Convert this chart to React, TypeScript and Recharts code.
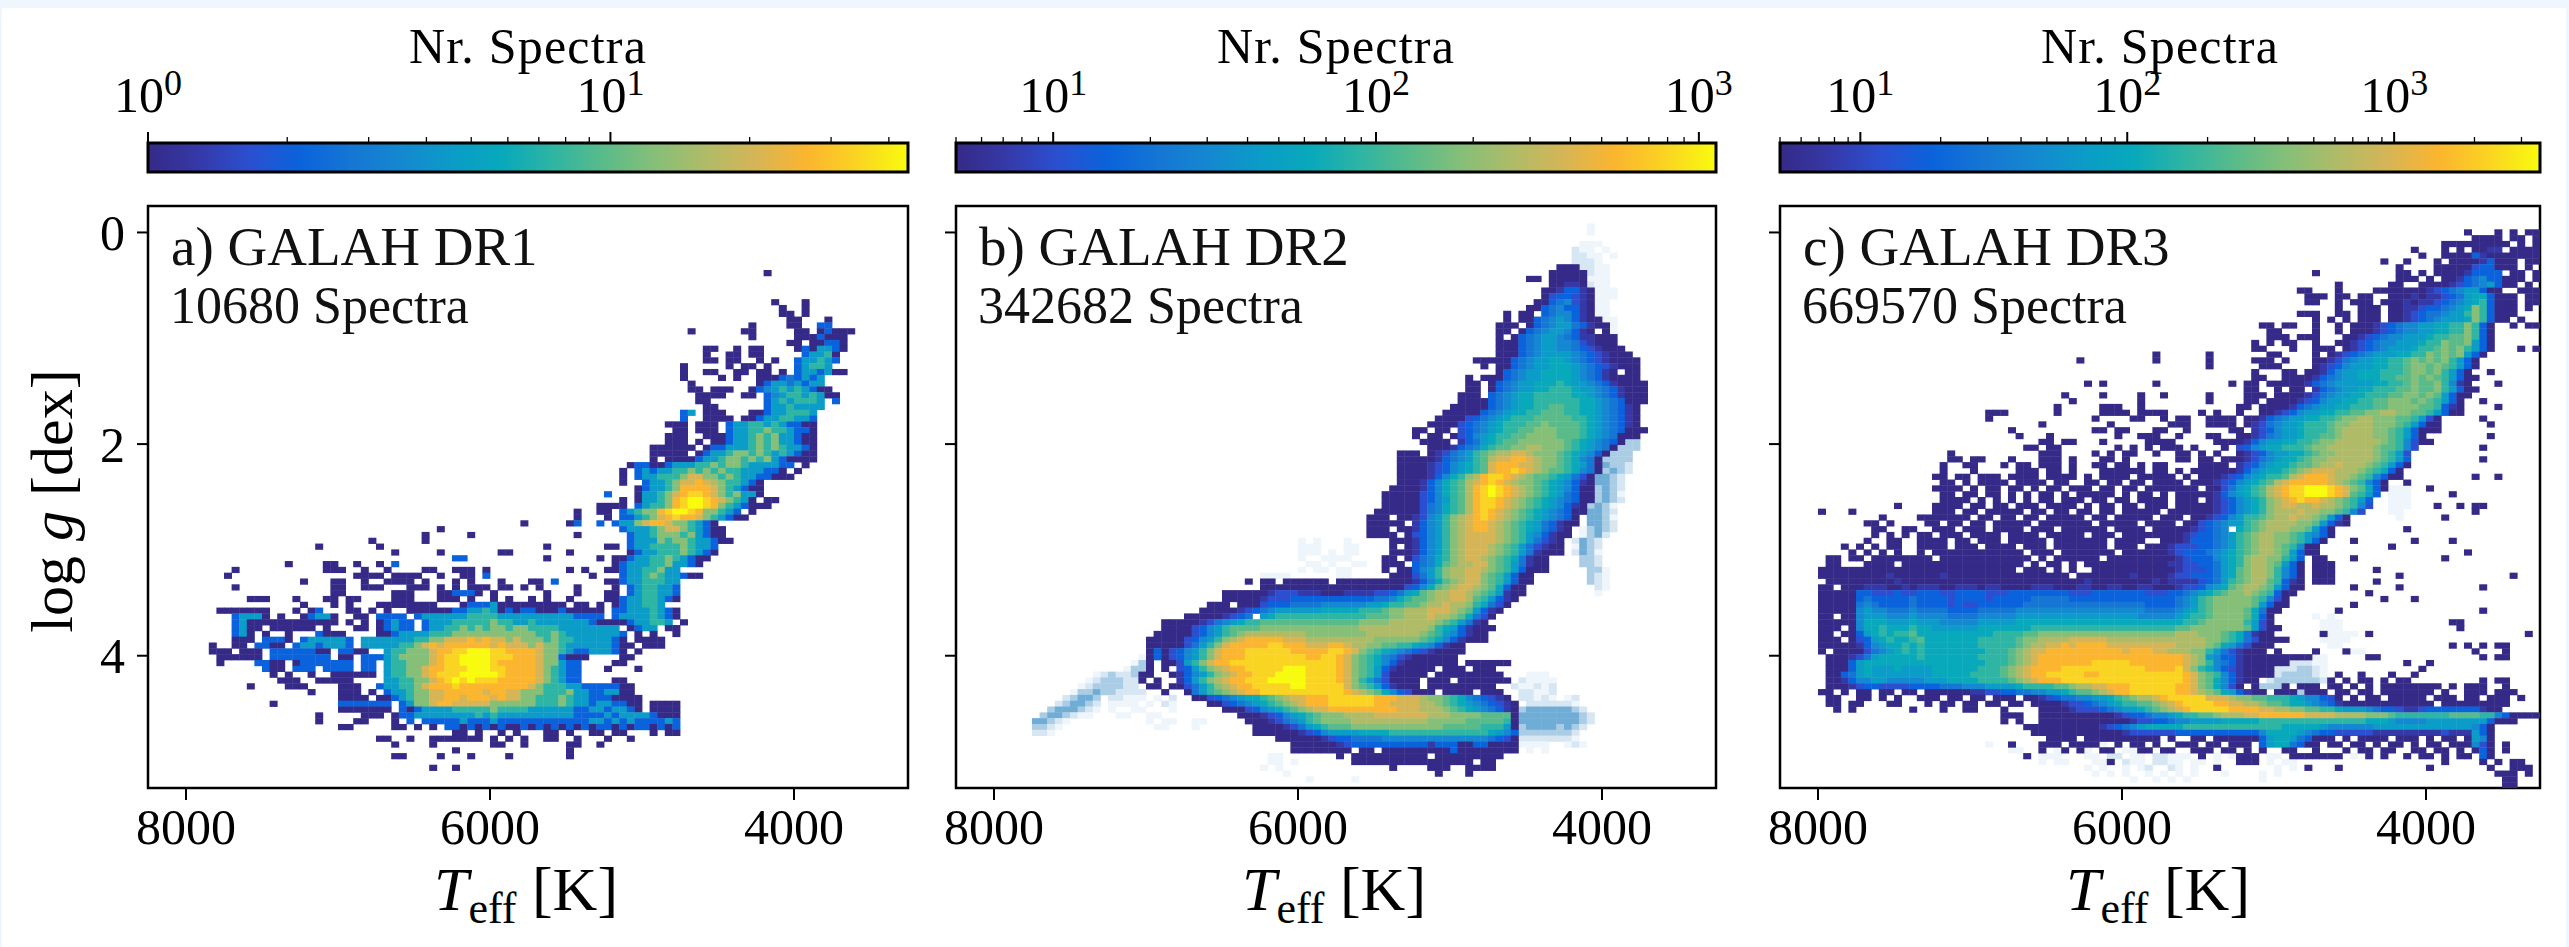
import React from "react";
import { ScatterChart, Scatter, XAxis, YAxis, ReferenceArea } from "recharts";

const FONT = "'Liberation Serif', serif";
// Colormap levels 0..f, pale underlay levels g..j
const CMAP = ["#352a87","#3539a8","#2b4fd0","#0a63dc","#1576d4","#1488d0","#0b9cc8","#08a9bb","#2fb5a3","#5abb8a","#86bf78","#b0bb68","#d6b556","#fbb52f","#fad422","#f9fb0e"];
const PALE: Record<string,string> = { g:"#eef5fb", h:"#d6e6f3", i:"#aacde5", j:"#6fadd6" };

const TEFF_TICKS = [8000,6000,4000];
const LOGG_TICKS = [0,2,4];
const TEFF_DOMAIN = [3250,8250];
const LOGG_DOMAIN = [-0.25,5.25];
const BIN_T = 50;
const BIN_G = 0.055;

// Each entry: "logg bin|col:cells col:cells"; a cell is a level, "." is an empty bin
const ROWS_A: string[] = [
"11|80:.0","16|80:..0...0","17|80:...0..0","18|80:...00.0","19|80:....00...0","20|70:.........0 80:....00..33",
"21|70:.0......00 80:.....00.03 90:000","22|70:.........0 80:.....00030 90:00","23|80:....00.003 90:30","24|70:...00..0.0 80:0....03066 90:30","25|70:...0..00.0 80:0.....3668 90:0",
"26|70:...00.00.. 80:0.0..36686 90:3","27|70:0.....0.00 80:.0...36886","28|70:0..00..00. 80:00.0.36636 90:00","29|70:0....0.0.. 80:000343636","30|70:.0........ 80:036646366",
"31|70:.00.000..0 80:3568686300","32|70:..0000..00 80:.356886860 90:0","33|70:..00...... 80:.36868886 90:3","34|70:...00..... 80:.36686666","35|70:36.000...0 80:03668886",
"36|70:3..0000.00 80:36688663","37|60:........00 70:0.000.3668 80:86863300","38|60:.........0 70:0.000.3668 80:8a886330","39|60:........00 70:0..0003668 80:a8a66300","40|60:........00 70:0.0.003668 80:a8a66300",
"41|60:......0000 70:00.0336668 80:a8a86630","42|60:......0000 70:0.03668aa8 80:a8686300","43|60:......0.00 70:003668aa8a 80:8a630000","44|60:...0330036 70:6688a8aa86 80:66633.0","45|60:..0.363668 70:8a8a8a8866 80:6330.0",
"46|60:..0.366888 70:accaa8a866 80:33000","47|60:..0..3668a 70:ccdcba8863 80:0","48|60:....03668a 70:ddddca8630 80:0","49|60:3...0668ac 70:deedca8a66 80:0","50|60:..0.0668ad 70:effedca860 80:.00",
"51|50:.........0 60:000.3688ad 70:effeda8630 80:00","52|50:......0..0 60:0.368aadef 70:fedaa863.0","53|50:......0... 60:0.3368acde 70:ddca86300","54|40:.........0 50:.....03..3 60:.366acddca 70:a8630","55|30:........0. 60:..36668acc 70:a86300",
"56|30:......0... 40:..0....... 50:......0... 60:...3668aaa 70:8a6300","57|20:.........0 30:......0... 60:...3666a8a 70:a866300","58|20:..0.......0 50:..0....... 60:00.3668888 70:a8663","59|30:..0.....0. 40:......00.. 50:.....0.... 60:...0366888 70:a8630","60|40:33....... 50:..0......0 60:.0036688a8 70:6300",
"61|10:........0 20:...00..0.. 30:0.3....... 60:.0366688a6 70:630","62|10:.0........ 20:...000..0 30:.0....00.. 40:000.0..... 50:.....0.0.. 60:0036688a66","63|10:0......... 20:.......000 30:0.0000..0. 40:.00.3..... 50:........0. 60:..3668a866 70:300","64|20:0...00..0. 30:.0000.0... 40:0.0...0... 50:00.3...... 60:0036688866","65|10:.0........ 20:....00..00 30:0...000.0. 40:0.000.00.0 50:.0....0... 60:.0.3688663",
"66|20:....00.... 30:..000...00 40:3330.0.... 50:..0...0... 60:00.3688663","67|10:...000...0 20:...00.00.. 30:..000...00 40:0.0..0.0.. 50:0.0..0.... 60:0036688630","68|20:0...0.0... 30:00000000 40:.033360000 50:00000.00.0 60:.0366886","69|0:.........0 10:000000...0 20:.03...00.0 30:.0..000000 40:3366860303 50:3000300000 60:.336668630",
"70|10:.36660.0.. 20:03660..00. 30:3333.36666 40:6688886666 50:6666663333 60:.366668630","71|10:.360000000 20:00000.0.0. 30:03633.3666 40:88888a8866 50:8666666630 60:000366886 70:0","72|10:.3600.0000 20:00.0...00. 30:03633.3668 40:8a8a8aa8aa 50:8888666666 60:66.0366.00","73|10:.360.0..0. 20:..3000.... 30:0036666888 40:aaaaaaaaaa 50:a88a866666 60:663.0.0..0",
"74|10:.000.3330. 20:3666663.66 30:6666688aac 40:ccdcdccaca 50:aa8a886666 60:630.0000","75|0:........0. 10:.00.3300.3 20:6636663.66 30:66688acdcd 40:dddddcdccc 50:acaa866666 60:6300.000","76|0:........00 10:0.000.3333 20:3300.3300. 30:.688aaacdd 40:eefffeeddd 50:dcaa863366 60:630.0","77|0:.........0 10:00000.3333 20:3333.00.33 30:368aaaacde 40:effffeeedd 50:dcaa3000.. 60:..00",
"78|0:.........0 10:....3300.0 20:3333333.33 30:.688aaacde 40:effffedddd 50:dcaa633... 60:.00","79|10:.....300.3 20:33.3333.33 30:.688aacdde 40:eefffeeddd 50:dca8633... 60:0...0","80|10:......0.0. 20:.0..000000 30:.688aacdee 40:efffffeddd 50:dca8633","81|10:.......000 20:..00000... 30:.6688aacde 40:fefeeedddd 50:dca8633... 60:.00",
"82|10:...0....00 20:0....000.. 30:36688acddd 40:eddddddddd 50:ca88866333 60:3300","83|20:.0...000.0 30:.3668aaccd 40:ddddcddcca 50:aa888a6633 60:6600","84|20:.....0000. 30:00368aaccd 40:dcdddcdcca 50:a888a86633 60:30000","85|10:......0... 20:.....33333 30:33.36aacdd 40:cccccaaaaa 50:a888a86636 60:63300.0000",
"86|20:.....00000 30:00.3036666 40:88888a8888 50:6666663366 60:36630.0000","87|20:..0.....00 30:0.03366666 40:6668686666 50:6666663333 60:6366663000","88|20:..0....00. 30:..0.3.3333 40:3633363333 50:3333333366 60:3636333363","89|20:.....00... 30:..00.0.0.3 40:3030303003 50:0303030303 60:3030330303",
"90|30:.......... 40:00.0..0.0. 50:..00.0..00 60:.00...0.00","91|30:00..0..000 40:0000.0.0.0 50:..00..0... 60:0..0","92|30:..0....0.. 40:.....00..0 50:.....00..0","93|40:0 50:.....0","94|30:..00....0. 40:..0....0.. 50:.....0","96|30:.......0.. 40:0"];

const ROWS_B: string[] = [
"3|80:...g","4|80:...g","6|80:..ggg","7|80:.hgg.g","8|80:.hhgg.g","9|80:.hhhg",
"10|70:.........0 80:00hhgg","11|70:........00 80:000hgg","12|70:.....00.00 80:000ggg","13|70:........00 80:110hgg","14|70:.......001 80:3310ggg","15|70:.......023 80:3210ggg","16|70:......0034 80:5210gg","17|70:.....00345 80:3310gg","18|70:..0.00.345 80:5310gg","19|70:..0.003456 80:53100gg",
"20|70:.000.03456 80:643100g","21|70:.00.034566 80:5310.0g","22|70:.0.0345665 80:4311000","23|70:.000345665 80:5421000","24|70:.000345665 80:54321000","25|70:.000345666 80:654321000",
"26|60:........00 70:0003456677 80:6543210000","27|60:.........0 70:.003456677 80:7654321000","28|70:.034566777 80:7654310.00","29|60:.......0.0 70:0034566777 80:7654310000","30|60:.......00. 70:0345667778 80:7665431000 90:0",
"31|60:.......00. 70:0345667788 80:8766543100 90:0","32|60:......000. 70:3456778888 80:8776543100 90:0","33|60:......0000 70:3456778888 80:8877654300 90:0","34|60:.....00000 70:3456778899 80:8877654310","35|60:....000003 70:4567788999 80:8877654310",
"36|60:...0000234 70:5678889999 80:9887654310","37|60:..00002345 70:6788899a99 80:9987654310","38|60:00.00.2345 70:678899aaa9 80:9987654300 90:0","39|60:0.00.02356 70:78899aaaa9 80:9987654000","40|60:.0000.1346 70:7899aaaaaa 80:98765430ii",
"41|60:..00013457 70:899aabbaaa 80:9876540iii","42|50:........00 60:0.01245689 70:abbccbaaa9 80:876530iii","43|50:........00 60:0001345689 70:bccddcbaa9 80:87540iiii","44|50:........00 60:0012356789 70:cdddccbaa9 80:87640jiih","45|50:........00 60:0012356789 70:cddedcba99 80:87540ijih",
"46|50:........00 60:0013578abd 70:eedcba9987 80:6420jjih","47|50:........00 60:0135789bcd 70:edcbaa9876 80:5310jjih","48|50:.......000 60:0135789bde 70:fedcba9876 80:5300ijih","49|50:......0000 60:0235789bde 70:fedcba9876 80:4300ijig","50|50:......0000 60:0235689bde 70:edcba98765 80:4300ijih",
"51|50:......0000 60:0245789bde 70:edcba98765 80:310ijig","52|50:.....00000 60:0245789bde 70:dcba987654 80:300jjih","53|50:....000.00 60:12568abcde 70:dcba987654 80:30.jjig","54|50:....00000. 60:13568abcdd 70:cba9876431 80:00.jjih","55|50:....000.00 60:13568abcdd 70:cba9876431 80:0.gijih",
"56|50:....0000.0 60:23568abccc 70:cba9865310 80:0.gijh","57|40:.....g.g.. 50:.g.....000 60:13568abccc 70:cba9864210 80:.hjih","58|40:.....ggg.. 50:.gg....0.0 60:13568abccc 70:ba98642100 80:.gjih","59|40:.....ggg.g 50:.gg....000 60:13568abccc 70:ba98641000 80:.hjig","60|40:.....g..gg 50:gg....00.0 60:24578abccb 70:a9874100 80:..iih",
"61|40:......gg.g 50:..gg..000. 60:34579abbcc 70:a9864100 80:..iih","62|40:.....g.gg. 50:gg....0.00 60:3568abbccb 70:a9863000 80:...iig","63|40:gggg...... 50:gg.....000 60:2468abbcca 70:986300 80:...ihg","64|30:........0. 40:00.000000 50:0000000000 60:13579abcca 70:986300 80:...ihg","65|40:0000000000 50:0000000002 60:3579abccba 70:97300 80:....hg",
"66|30:.....00000 40:0122211100 50:0111122346 60:79abbccba9 70:86100 80:....g","67|30:.....00000 40:1222333333 50:3333344578 60:99abbccb98 70:6310","68|30:...000.000 40:2333444455 50:5555667889 60:9abbcbba87 70:420","69|30:..00000123 40:4566666677 50:7778889aab 60:bbcccba963 70:10","70|30:000001234 40:6788888888 50:8888999aab 60:bbcbba9742 70:0",
"71|20:.......000 30:0012456788 40:9999999999 50:999aaaabbb 60:bbba986410","72|20:.......000 30:0235689999 40:aaaaaaaaaa 50:aaabbbbbbb 60:bba8763100 70:0","73|20:......0000 30:0235689abb 40:bbbbbbaaaa 50:aaaabbbbbb 60:ba98653100","74|20:.....00000 30:23568abcdd 40:dddcccbbbb 50:bbbbbaaaaa 60:a987531000","75|20:.....00000 30:2468acdddd 40:deedddcccd 50:dcbbaa9988 60:7653100",
"76|20:.....03023 30:568acdddee 40:eeeeddddde 50:edca987654 60:3210000","77|20:....g03023 30:568acdddee 40:eeeeeeddee 50:dca9875421 60:000000","78|20:...gi0.002 30:68acddeeee 40:eeeeeeeeee 50:dca9875310 60:000000.000 70:000","79|20:..gii0.0.2 30:368abcddee 40:eeefffeeee 50:dca9863100 60:000.000.00 70:0","80|10:........gh 20:ihhi00..01 30:3568abcdde 40:eeffffeeee 50:dca9862000 60:00.0000000 70:00...ggg",
"81|10:.......ghi 20:iihh0.0..1 30:368abcddee 40:efffffeeee 50:dca8642000 60:0.000.0000 70:000.hgggg","82|10:......ghii 20:iihh.00.00 30:2468abcdde 40:eeeeffeeee 50:eca9863100 60:0.00000000 70:0..hgghgh","83|10:.....giiji 20:ihhhh..0.. 30:04689abcdd 40:eeeeeeeeee 50:edcba97532 60:000.0000.0 70:00..hhggh",
"84|10:....hijji 20:hhggg.g.h. 30:.002345677 40:89abccddde 50:eeeeedddcc 60:cbaa987543 70:210.hhghg 80:gh","85|10:...hijjih 20:gggg.g.hg. 30:...0023456 40:789abcddde 50:eeeeeddccc 60:cbba987654 70:3210.hhhhh 80:hg","86|10:..ijjjihg 20:g..gg...g. 30:.....00023 40:56789abccd 50:ddddddddcc 60:cbbba98765 70:4310ijjjjj 80:jih",
"87|10:.ijjihgg.. 20:.gg..gg... 30:.......000 40:1235678 9aa 50:abbbbccccc 60:ccbbbaaaa9 70:9990jjjjjj 80:jjih","88|10:jjihg..... 20:.....g.gg. 30:.gg.....00 40:01245689aa 50:aabbbbbbbb 60:bbaaaaa999 70:9980jjjjjj 80:jjih","89|10:iihg...... 20:......gg.. 30:.g.......0 40:0001246789 50:99aaaaaaaa 60:aaaa999998 70:8860ijjjji 80:jih",
"90|10:hhg....... 30:.........0 40:0000012356 50:6667777888 60:8888888888 70:7653iiiiii 80:ih","91|40:..00000012 50:3344445555 60:5555555555 70:4320hhhhhh 80:hg","92|40:....000000 50:1233333333 60:3313330033 70:0000gggg 80:ghg","93|40:....000000 50:00.00.0000 60:0000030000 70:0000.g.g",
"94|40:.gg....... 50:0.00000000 60:00.0000000 70:00","95|40:.gg.g..... 50:..00000000 60:00000000.0 70:0","96|40:g.g....... 50:.......0.. 60:..000..000 70:0","97|40:...g...... 60:...0...0","98|40:......g... 50:..g"];

const ROWS_C: string[] = [
"4|90:0...0.0.00","5|90:.0000.00.0","6|80:.......000 90:000000.0.0","7|80:...0...0.0 90:.0011.0000","8|80:....0..000 90:0310000000","9|70:.........0 80:..0...0.00 90:0013000.00",
"10|80:.0....0000 90:0233000.0.","11|70:0 80:.00.0.0000 90:13333.00.0","12|80:.000.0.001 90:34533000.0","13|70:...0 80:00..000012 90:3456300.0","14|60:........00 70:...0....00 80:0000012345 90:66300..000",
"15|60:.........0 70:00.00.00.. 80:0001011234 90:6773000.00","16|60:.........0 70:0..0.000.0 80:0010112345 90:6783000.00","17|70:...0..000. 80:0011233456 90:7a83000.0.","18|60:........00 70:0..00.000. 80:0012344566 90:8a83000","19|70:0.0.0.000. 80:0012345666 90:7a8300.0",
"20|60:...00.00.. 70:0..0.00012 80:3455667788 90:a830..0.00","21|60:....00.... 70:0..0.00012 80:3455667788 90:a830","22|60:....000.00 70:0...001234 80:5566678899 90:a830","23|60:..0.0.00.. 70:0..0012345 80:5666788a99 90:a630","24|60:..00...0.. 70:000.012345 80:6667889a9a 90:8630...0.0",
"25|40:.........0 50:......0... 60:....00.... 70:0.01234566 80:67788a9a9a 90:630","26|30:.........0 40:.........0 50:......0... 60:..000.0... 70:0012456677 80:889a9a9a86 90:30","27|50:......0... 60:...000.... 70:0123566677 80:889aa9a986 90:30","28|60:..0...00.0 70:0135667778 80:889aa9a863 90:0..0","29|60:..00..0000 70:1345667778 80:899a9a9863 90:00",
"30|40:0.0......0 50:.........0 60:.00.000001 70:3456666677 80:889a99a851 90:0...0","31|60:.00..0.00 70:1345667788 80:899a99a863 90:00","32|30:.......0.. 40:..0....0.. 50:0.....0... 60:.000.00001 70:2456677888 80:99aa9a9630 90:0","33|30:........0. 40:.......0.. 50:......0... 60:.00.000012 70:3566778899 80:aaa9a98630 90:..0","34|30:......0... 40:..000..0.. 60:00.0000134 70:5667788899 80:aaaa998310 90:....0",
"35|20:.......000 30:......0... 40:..0000.000 50:0....0.0.. 60:0..0012356 70:6778899aab 80:baa9986300","36|20:.......0.. 40:.0....00.. 50:0.00..0000 60:.001345667 70:7889aabbaa 80:a998620 90:..0","37|30:....0..... 40:...0...... 50:.000..0000 60:.012456678 70:889aabbbaa 80:a986300 90:...0","38|30:0......... 40:.00.00...0 50:0..0.....0 60:0.12356678 70:889abbbbaa 80:9863000","39|30:.0...0.... 40:....0..000 50:..0...00.. 60:0012456678 70:899abbbbaa 80:98630 90:...0",
"40|30:....00.00 40:..0.....00 50:00.....000 60:0135667788 70:9aabbbbbba 80:985200","41|30:..00.00... 40:....0.0.0. 50:000.0...0 60:2356778889 70:aabbbbbba9 80:9852 90:..0","42|20:..0....... 30:....000... 40:.0.0.00..0 50:..00.0.0 60:0123566778 70:9aabbbbba9 80:862","43|20:..00.00.. 30:0...000.0. 40:..00.0.... 50:..00.00.00 60:0124567789 70:aabbbbbba9 80:863 90:..0","44|20:.0..00...0 30:.00.000.0. 40:.00.00.0.0 50:0....0000 60:1235677899 70:abbcbbba98 80:630",
"45|20:.0...0.... 30:.000.00.0. 40:..000000.0 50:0.0.000000 60:13567789ab 70:cccbbba987 80:30","46|20:00.00.000. 30:0000.0000. 40:0.0000.000 50:00.0.00012 60:3567889bcd 70:ddcbba9853 80:00 90:.0..0","47|20:.00.0.0000 30:.0000.00.. 40:00.00.00.0 50:000.000123 60:56789bcddd 70:ddcba98530 80:..0","48|20:0000.0.00 30:00.0.00.00 40:0.00.00.00 50:00000.0024 60:6789bcdeef 70:ffedca9730 80:ggg..0","49|20:.00.00.00 30:0.0.00.0.0 40:0000.0.00. 50:0.00000135 60:6789bcdeef 70:ffedc9863 80:ggg.....0",
"50|20:.0000.0.0 30:0.0.00.000 40:.00.00.000 50:0.000.0123 60:5678abcded 70:dcba9863 80:ggg",
"51|10:.....0.... 20:0000.00.00 30:.000.0000. 40:0.00.00.00 50:0.00000123 60:5678abccbb 70:cbba9852 80:ggg...0..0 90:.00","52|0:.....0...0 20:000.00.000 30:00.00.00.0 40:0.00.00000 50:.000000123 60:5678abbbcb 70:baa9852 80:gg. 90:.0","53|10:...0....00 20:00000.00.0 30:0.00.00000 40:.00.00000 50:000.001235 60:6889abbcbb 70:a9630 80:.g.....0","54|10:.00.0....0 20:0.00.00.00 30:000.000000 40:0.00000.00 50:00.0023456 60:689abbbbaa 70:96310","55|10:..00..00.. 20:000.000.00 30:00.000.000 40:000.0000.0 50:000012345 60:789abbbaa9 70:630.. 80:..0",
"56|10:..0.0.0.00 20:.000.0000 30:0000.00000 40:.000.00000 50:0001233456 60:89abbaa986 70:530","57|10:.0..00..00 20:00.00.000 30:00000.0000 40:000.0000.. 50:0001333456 60:89abbaa986 70:30...0 80:...0....0","58|0:........0 10:0.0.00..00 20:00.000.000 30:0.000.0000 40:000.000.00 50:0122233456 60:89abba9850 70:0.... 80:0","59|0:.........0 10:.0.0.0..0 20:0000000000 30:00.000.000 40:0000.00000 50:0123334567 60:89abba9630 70:0 90:0","60|0:......00.0 10:0.00000000 20:.000000000 30:000.0.0000 40:00.0000000 50:0012333567 60:8abbaa863 70:00...0 80:.......0",
"61|0:......00 10:.0000.0000 20:0000000000 30:00.0.00.0 40:0000000000 50:0112233467 60:8abba9630 70:000","62|0:.....00000 10:0000000000 20:0000000000 30:0.000.0.0 40:.000000000 50:0012223467 60:9abba8530 70:000.....0","63|0:.....00000 10:0000100000 20:0100000000 30:00000000.0 40:0000001000 50:0122333467 60:9abba8530 70:000 80:.0 90:......0","64|0:......0000 10:0000010000 20:0000000000 30:0000000000 40:1000000001 50:0111123468 60:9abb98310 70:000.....0","65|0:.....00.00 10:0111001011 20:1001110110 30:0001110001 40:1001100110 50:0012235679 60:abba96300 70:.....0 80:.0 90:..0",
"66|0:.....00000 10:3322232233 20:3223333222 30:3333333322 40:2333333322 50:233456789a 60:aba98300 70:.......0","67|0:.....00000 10:3433333433 20:3323333233 30:3334444433 40:3333333333 50:3345689aaa 60:aa98520 70:.........0 80:...0","68|0:.....00000 10:4543333433 20:3323223333 30:3344444444 40:4444444433 50:3345689aaa 60:aa96300 70:.....0","69|0:.....00000 10:5655444544 20:4433334444 30:4555555555 40:5555555544 50:4456789aaa 60:a97400 70:...0 90:..0","70|0:.....00.00 10:5666555655 20:5544445555 30:5666666666 40:6666666555 50:5567889aaa 60:a9730 70:g.g",
"71|0:.....00000 10:5777666766 20:6555556666 30:6777777777 40:7777777777 50:777889aaaa 60:a8620 70:.ggg 80:........00","72|0:.....000.0 10:5778777877 20:6666667777 30:7778888888 40:8888888888 50:8899aaaaaa 60:a96200 70:.ggg 80:.........0","73|0:.....00.00 10:3678788977 20:7777777788 30:8899aaaaaa 40:aaaaaaaaaa 50:aabbbaaa98 60:74100 70:.0gggg.0 90:........0","74|0:.....000.0 10:2367877897 20:7777778888 30:89aabbbbcc 40:cccbbbbbbb 50:bbbbbbaa98 60:7420000 70:.gggg","75|0:.....00000 10:1356778787 20:7777778888 30:89abbccdcd 40:dddccccccc 50:ccbbbba976 60:42000.. 70:..gg 80:........0. 90:0.0.00",
"76|0:.....0.000 10:0245678787 20:7777777888 30:9abccddddd 40:dddddcdddc 50:cbbbaa8642 60:1000.0 70:0...0gg 90:.0...0","77|0:......0001 10:2467777787 20:7777778888 30:9abcdddddd 40:dddddddddd 50:dddcba6533 60:1000000000 70:gg.....00 90:..0.00","78|0:......0003 10:6777777777 20:7777777888 30:9abcdddddd 40:deeeeedddd 50:dddcba8543 60:1000000hhh 70:gg 80:..0..0","79|0:......0003 10:6766676666 20:7777778889 30:abcddddeee 40:eeeeeeeedd 50:ddeca87532 60:10000hhhii 70:hg 80:....0","80|0:......0034 10:6766666666 20:7777788889 30:abcddeeeee 40:ddeeeeeeee 50:eeedca9853 60:10000hiiii 70:hg.0..0 80:0..0",
"81|0:......0013 10:5566555556 20:6677778888 30:9abcdddeee 40:eeeeeeeeee 50:eeedca9753 60:100.hiiiii 70:ih0.0.00.0 80:.00 90:..0.00","82|0:......0001 10:2332222333 20:3444555666 30:67888899ab 40:bccdddeeee 50:eeddca9752 60:0.0iii0.00 70:0.00.0.0.0 80:0000000.0 90:000..0","83|0:.....00.0. 10:00.00.00.0 20:0000011223 30:3445566789 40:9abcddeeee 50:eeddcba976 60:3100.000i0 70:00.00.00.0 80:000000.0 90:000.000","84|0:......00.. 10:00.0.0..00 20:0.00.00.00 30:0.00123445 40:566789abbc 50:deeeeecccb 60:aa99888765 70:5320.0.00 80:00000.000 90:00.000.0","85|0:......00.0 10:0...00...0 20:.00.00.00. 30:00.0000122 40:345678899a 50:bcdeeeeddc 60:cbba998776 70:5431000000 80:000000.000 90:000000",
"86|0:.......0.0 10:.......0.. 20:.0..00...0 30:....000012 40:2234566789 50:abcdeeeeed 60:dddccbbaa9 70:9887666543 80:3211233333 90:33100","87|20:.........0 30:00..000000 40:0000123345 50:5678899abb 60:bccddddddc 70:cccbbbbaaa 80:9888888899 90:9988530000","88|20:.........0 30:.0..000000 40:0000001223 50:3455666677 60:7778888888 70:8888888777 80:6555566666 90:6663000","89|30:..00000000 40:0012345677 50:7778888888 60:8888887777 70:7655555566 80:6666666666 90:6530","90|30:...0000000 40:0000012222 50:2233333333 60:3335777765 70:4332222211 80:1111111211 90:1630",
"91|30:.....0000 40:0000000000 50:.0..00.000 60:0003677643 70:000.0.0000 80:.000.0.00 90:0650","92|20:.......g 30:0...000.00 40:00g.0.00.0 50:..000.00.0 60:00.3677430 70:0.00.00.0 80:00.0.00.00 90:0520.0","93|30:gg..0.g0.0 40:g.00.gg00. 50:00..000.00 60:.0.0..00 70:0...0.00.0 80:0..00.00.0 90:.030.0","94|30:..0.ggg 40:gg.hh.gg.h 50:hggg.0.g.g 60:000.gg.000 70:0000.g.0.0 80:..0.00.0.0 90:0.30","95|30:....g.gg 40:.gg0.hgg.h 50:hgg.gg.g.. 60:000.g.gg 80:.......0 90:..0.0.00",
"96|40:g.g..g.gh 50:.hg.g..0.. 60:.....g.g.0 70:...0 80:.....0 90:...0..000","97|40:.g.g.g..g. 50:g.g.g...g 60:...g.g 90:....000.0","98|40:......g..g 50:.g.g...... 60:...g 90:.....00","99|90:.....00"];

type Cell = { teff: number; logg: number; level: string };

function decodeRows(rows: string[]): Cell[] {
  const seen = new Map<string, Cell>();
  rows.forEach((line) => {
    const [rs, body] = line.split("|");
    const r = Number(rs);
    let next = 0;
    body.split(" ").forEach((seg) => {
      const idx = seg.indexOf(":");
      const start = idx < 0 ? next : Number(seg.slice(0, idx));
      const cells = idx < 0 ? seg : seg.slice(idx + 1);
      [...cells].forEach((ch, i) => {
        const c = start + i;
        next = c + 1;
        if (ch === "." || c > 99) return;
        seen.set(r + "_" + c, { teff: TEFF_DOMAIN[1] - (c + 0.5) * BIN_T, logg: LOGG_DOMAIN[0] + (r + 0.5) * BIN_G, level: ch });
      });
    });
  });
  return [...seen.values()];
}

function fillOf(level: string): string {
  if (PALE[level]) return PALE[level];
  return CMAP[parseInt(level, 16)] ?? CMAP[0];
}

const PLOT_W = 760, PLOT_H = 582;
const CW = PLOT_W * BIN_T / (TEFF_DOMAIN[1] - TEFF_DOMAIN[0]);
const CH = PLOT_H * BIN_G / (LOGG_DOMAIN[1] - LOGG_DOMAIN[0]);

function CellShape(p: any) {
  const lv = p.payload?.level ?? p.level;
  return <rect x={p.cx - CW / 2} y={p.cy - CH / 2} width={CW + 0.4} height={CH + 0.4} fill={fillOf(lv)} />;
}

const Y_GUTTER = 148;
const TOP_GUTTER = 16;

function Panel({ left, rows, title, count, showY }: { left: number; rows: string[]; title: string; count: string; showY: boolean }) {
  const data = decodeRows(rows);
  const pale = data.filter((d) => PALE[d.level]);
  const solid = data.filter((d) => !PALE[d.level]);
  return (
    <div style={{ position: "absolute", left: left - Y_GUTTER, top: 206 - TOP_GUTTER }}>
      <ScatterChart width={Y_GUTTER + PLOT_W + 12} height={TOP_GUTTER + PLOT_H + 150} margin={{ top: TOP_GUTTER, right: 12, bottom: 0, left: 0 }} style={{ fontFamily: FONT }}>
        <XAxis type="number" dataKey="teff" domain={TEFF_DOMAIN} reversed allowDataOverflow ticks={TEFF_TICKS} height={150} tickSize={12} tickMargin={8}
          tick={{ fontSize: 50, fill: "#000", fontFamily: FONT }} axisLine={{ stroke: "#000", strokeWidth: 2 }} tickLine={{ stroke: "#000", strokeWidth: 2 }} />
        <YAxis type="number" dataKey="logg" domain={LOGG_DOMAIN} reversed allowDataOverflow ticks={LOGG_TICKS} width={Y_GUTTER} tickSize={11} tickMargin={12}
          tickFormatter={(v: number) => (showY ? String(v) : "")}
          tick={{ fontSize: 50, fill: "#000", fontFamily: FONT }} axisLine={{ stroke: "#000", strokeWidth: 2 }} tickLine={{ stroke: "#000", strokeWidth: 2 }} />
        <Scatter data={pale} shape={CellShape} isAnimationActive={false} />
        <Scatter data={solid} shape={CellShape} isAnimationActive={false} />
        <ReferenceArea x1={TEFF_DOMAIN[0]} x2={TEFF_DOMAIN[1]} y1={LOGG_DOMAIN[0]} y2={LOGG_DOMAIN[1]} fill="none" fillOpacity={0} stroke="#000" strokeWidth={2.5} ifOverflow="visible" />
        <text x={Y_GUTTER + 23} y={TOP_GUTTER + 59} fontSize={55} fontFamily={FONT} fill="#111">{title}</text>
        <text x={Y_GUTTER + 22} y={TOP_GUTTER + 117} fontSize={52} fontFamily={FONT} fill="#111">{count}</text>
        <text x={Y_GUTTER + 378} y={TOP_GUTTER + 704} textAnchor="middle" fontSize={62} fontFamily={FONT} fill="#000">
          <tspan fontStyle="italic">T</tspan>
          <tspan fontSize={44} dy={13}>eff</tspan>
          <tspan dy={-13}> [K]</tspan>
        </text>
        {showY && (
          <text transform={`translate(72,${TOP_GUTTER + 295}) rotate(-90)`} textAnchor="middle" fontSize={60} fontFamily={FONT} fill="#000">
            log <tspan fontStyle="italic">g</tspan> [dex]
          </text>
        )}
      </ScatterChart>
    </div>
  );
}

const CB_A = { domain: [1, 44], ticks: [1,2,3,4,5,6,7,8,9,10,20,30,40] };
const CB_B = { domain: [5, 1130], ticks: [5,6,7,8,9,10,20,30,40,50,60,70,80,90,100,200,300,400,500,600,700,800,900,1000] };
const CB_C = { domain: [5, 3520], ticks: [5,6,7,8,9,10,20,30,40,50,60,70,80,90,100,200,300,400,500,600,700,800,900,1000,2000,3000] };

function CbTick(p: any) {
  const v: number = p.payload.value;
  const e = Math.log10(v);
  const major = Math.abs(e - Math.round(e)) < 1e-9;
  const x = p.x, y = 143;
  return (
    <g>
      <line x1={x} x2={x} y1={y} y2={y - (major ? 11 : 6)} stroke="#000" strokeWidth={major ? 2 : 1.3} />
      {major && (
        <text x={x - 9} y={112} textAnchor="middle" style={{ fontSize: 50, fontFamily: FONT }} fill="#000">10</text>
      )}
      {major && (
        <text x={x + 16} y={95} textAnchor="start" style={{ fontSize: 36, fontFamily: FONT }} fill="#000">{Math.round(e)}</text>
      )}
    </g>
  );
}

function Colorbar({ left, cb, id }: { left: number; cb: { domain: number[]; ticks: number[] }; id: string }) {
  return (
    <div style={{ position: "absolute", left: left - 60, top: 0 }}>
      <ScatterChart width={60 + PLOT_W + 60} height={176} margin={{ top: 0, right: 60, bottom: 4, left: 60 }}>
        <defs>
          <linearGradient id={id} x1="0" x2="1" y1="0" y2="0">
            {CMAP.map((c, i) => <stop key={i} offset={i / (CMAP.length - 1)} stopColor={c} />)}
          </linearGradient>
        </defs>
        <XAxis orientation="top" type="number" scale="log" dataKey="v" domain={cb.domain} allowDataOverflow ticks={cb.ticks} interval={0} height={143}
          tick={CbTick} tickLine={false} axisLine={false} />
        <YAxis type="number" dataKey="u" domain={[0, 1]} allowDataOverflow hide />
        <Scatter data={[]} isAnimationActive={false} />
        <ReferenceArea x1={cb.domain[0]} x2={cb.domain[1]} y1={0} y2={1} fill={`url(#${id})`} fillOpacity={1} stroke="#000" strokeWidth={3} ifOverflow="visible" />
        <text x={60 + 380} y={63} textAnchor="middle" fontSize={50} letterSpacing={1.2} fontFamily={FONT} fill="#000">Nr. Spectra</text>
      </ScatterChart>
    </div>
  );
}

export default function App() {
  return (
    <div style={{ position: "absolute", left: 0, top: 0, width: 2569, height: 947, background: "#f0f6fe", overflow: "hidden" }}>
      <div style={{ position: "absolute", left: 2, top: 8, width: 2564, height: 939, background: "#fff" }} />
      <Colorbar left={148} cb={CB_A} id="cbA" />
      <Colorbar left={956} cb={CB_B} id="cbB" />
      <Colorbar left={1780} cb={CB_C} id="cbC" />
      <Panel left={148} rows={ROWS_A} title="a) GALAH DR1" count="10680 Spectra" showY />
      <Panel left={956} rows={ROWS_B} title="b) GALAH DR2" count="342682 Spectra" showY={false} />
      <Panel left={1780} rows={ROWS_C} title="c) GALAH DR3" count="669570 Spectra" showY={false} />
    </div>
  );
}
